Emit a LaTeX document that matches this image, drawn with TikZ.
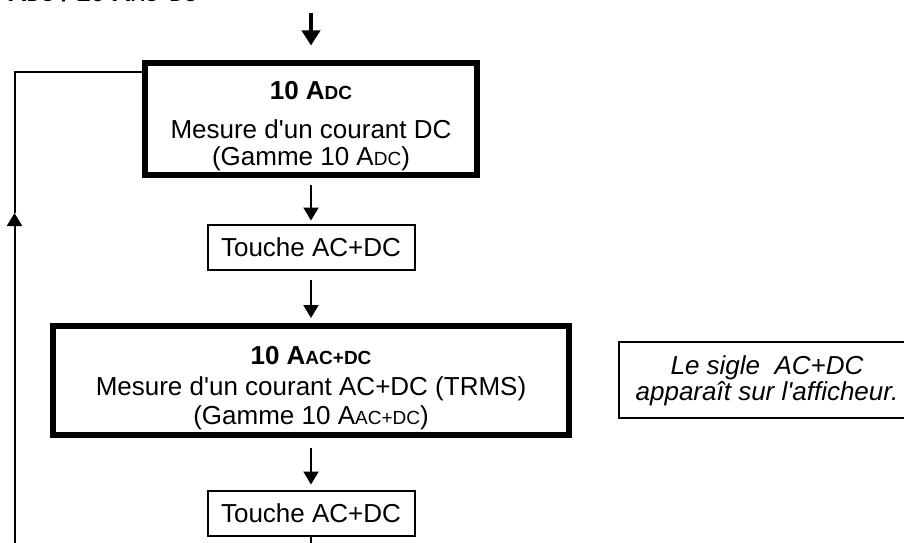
\documentclass[tikz,border=0pt]{standalone}
\usepackage{fontspec}
\newfontfamily\arial{Liberation Sans}
\usetikzlibrary{arrows.meta, positioning}
\newcommand{\petit}[1]{{\fontsize{19}{19}\selectfont #1}}
\newcommand{\hautligne}{\rule{0pt}{33pt}}

\begin{document}
\begin{tikzpicture}[
  x=1pt, y=1pt,
  modebox/.style={rectangle, draw=black, line width=6pt, outer sep=0pt, align=center,
    font=\arial\fontsize{26}{29}\selectfont},
  touche/.style={rectangle, draw=black, line width=2pt, outer sep=0pt, minimum width=207pt,
    minimum height=45pt, font=\arial\fontsize{26}{29}\selectfont},
  notebox/.style={rectangle, draw=black, line width=2pt, outer sep=0pt, minimum width=296pt,
    minimum height=76pt, align=center, font=\arial\itshape\fontsize{26}{26}\selectfont},
  arrow/.style={-{Triangle[length=13pt, width=15pt]}, line width=2pt, shorten <=10pt, shorten >=5pt},
  grosfleche/.style={-{Triangle[length=15pt, width=18pt]}, line width=4pt},
  trait/.style={line width=2pt}
]
\useasboundingbox (0,0) rectangle (904,-542);
\clip (0,0) rectangle (904,-542);

% titre (coupe par le bord)
\node (titre) [anchor=base west, inner sep=0pt, font=\arial\bfseries\fontsize{26}{29}\selectfont]
  at (8,-1) {A\petit{DC} / 10 A\petit{AC+DC}};

% modes de mesure
\node (mode1) [modebox, minimum width=332pt, minimum height=108pt] at (311,-119)
  {\hautligne\textbf{10 A\petit{DC}}\\[10pt] Mesure d\textquotesingle un courant DC\\[-2pt] (Gamme 10 A\petit{DC})};
\node (touche1) [touche, below=50pt of mode1] {Touche AC+DC};
\node (mode2) [modebox, minimum width=516pt, minimum height=108.5pt, below=56.5pt of touche1]
  {\hautligne\textbf{10 A\petit{AC+DC}}\\[2pt] Mesure d\textquotesingle un courant AC+DC (TRMS)\\ (Gamme 10 A\petit{AC+DC})};
\node (touche2) [touche, below=56pt of mode2] {Touche AC+DC};

% remarque
\node (note) [notebox, right=50pt of mode2] {Le sigle\ \ AC+DC\\ apparaît sur l\textquotesingle afficheur.};

% points libres
\coordinate (entree) at ([yshift=50pt]mode1.north);
\coordinate (sortie) at ([yshift=-30pt]touche2.south);
\coordinate (retourbas) at (14.5,-560);
\coordinate (retourfleche) at (14.5,-213);

% fleches
\draw [grosfleche, shorten >=18pt] (entree) -- (mode1.north);
\draw [arrow, shorten >=4pt] (mode1) -- (touche1);
\draw [arrow, shorten >=8pt] (touche1) -- (mode2);
\draw [arrow, shorten <=13pt, shorten >=6pt] (mode2) -- (touche2);
\draw [trait] (touche2) -- (sortie);

% retour
\draw [arrow, shorten <=0pt, shorten >=0pt] (retourbas) -- (retourfleche);
\draw [trait] (retourfleche) |- ([yshift=-9pt]mode1.north west);

\end{tikzpicture}
\end{document}
